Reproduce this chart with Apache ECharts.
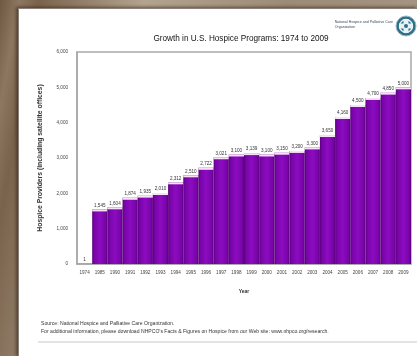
<!DOCTYPE html>
<html>
<head>
<meta charset="utf-8">
<script src="https://cdn.jsdelivr.net/npm/echarts@6/dist/echarts.min.js"></script>
<style>
  html, body { margin: 0; padding: 0; }
  body {
    width: 417px; height: 356px; overflow: hidden; position: relative;
    background: linear-gradient(100deg, #6e5843 0%, #8d7760 4%, #7a634d 8%, #b3a48f 30%, #9c8b76 60%, #a89885 100%);
  }
  #panel {
    position: absolute; left: 18px; top: 8px; width: 399px; height: 348px;
    background: #ffffff;
    box-shadow: -2px -1px 3px rgba(40, 30, 20, 0.6);
    border-left: 1px solid #8a8078; border-top: 1px solid #8a8078;
  }
  #chart { position: absolute; left: 0; top: 0; width: 417px; height: 356px; }
</style>
</head>
<body>
<div id="panel"></div>
<div id="chart"></div>
<script>
// Hospice providers in the U.S., by year
const years = ['1974', '1985', '1990', '1991', '1992', '1993', '1994', '1995', '1996', '1997', '1998',
               '1999', '2000', '2001', '2002', '2003', '2004', '2005', '2006', '2007', '2008', '2009'];
const providers = [1, 1545, 1604, 1874, 1935, 2010, 2312, 2510, 2722, 3021, 3100,
                   3139, 3100, 3150, 3200, 3300, 3650, 4160, 4500, 4700, 4850, 5000];
const yTicks = { min: 0, max: 6000, interval: 1000 };

const fmt = v => v.toLocaleString('en-US');
const FONT = '"Liberation Sans", Arial, sans-serif';

const chart = echarts.init(document.getElementById('chart'), null, { renderer: 'canvas' });

// Each bar is a shaded column with a light bevel along its top edge
function renderBar(params, api) {
  const idx = api.value(0);
  const val = api.value(1);
  const top = api.coord([idx, val]);
  const base = api.coord([idx, 0]);
  const w = api.size([1, 0])[0];
  const x = top[0] - w / 2;
  const h = base[1] - top[1];
  const children = [{
    type: 'rect',
    shape: { x: x, y: top[1], width: w, height: h },
    style: {
      fill: new echarts.graphic.LinearGradient(0, 0, 1, 0, [
        { offset: 0, color: '#560078' },
        { offset: 0.12, color: '#7804a8' },
        { offset: 0.5, color: '#8c0cc0' },
        { offset: 0.88, color: '#7804a8' },
        { offset: 1, color: '#560078' }
      ])
    }
  }];
  if (h > 3) {
    children.push({
      type: 'rect',
      shape: { x: x, y: top[1], width: w, height: 2 },
      style: { fill: '#f6e2f4' }
    });
  }
  children.push({
    type: 'text',
    style: {
      text: fmt(val), x: top[0], y: top[1] - 1.5,
      align: 'center', verticalAlign: 'bottom',
      font: '4.6px ' + FONT, fill: '#333333'
    }
  });
  return { type: 'group', children: children };
}

chart.setOption({
  animation: false,
  title: {
    text: 'Growth in U.S. Hospice Programs: 1974 to 2009',
    left: 236, top: 30, textAlign: 'center',
    textStyle: { fontFamily: FONT, fontSize: 8.2, fontWeight: 'normal', color: '#151515' }
  },
  grid: {
    left: 77, right: 6, top: 52, bottom: 92,
    show: true, borderColor: '#a8a8a8', borderWidth: 1.5, backgroundColor: 'transparent'
  },
  xAxis: {
    type: 'category',
    data: years,
    name: 'Year', nameLocation: 'middle', nameGap: 25,
    nameTextStyle: { fontFamily: FONT, fontSize: 5, fontWeight: 'bold', color: '#333' },
    axisLine: { lineStyle: { color: '#a8a8a8', width: 1.5 } },
    axisTick: { show: false },
    axisLabel: { interval: 0, margin: 6, fontFamily: FONT, fontSize: 4.6, color: '#444' }
  },
  yAxis: {
    type: 'value',
    min: yTicks.min, max: yTicks.max, interval: yTicks.interval,
    name: 'Hospice Providers (including satellite offices)',
    nameLocation: 'middle', nameGap: 33, nameRotate: 90,
    nameTextStyle: { fontFamily: FONT, fontSize: 6.8, fontWeight: 'bold', color: '#333' },
    axisLine: { show: true, lineStyle: { color: '#a8a8a8', width: 1.5 } },
    axisTick: { show: false },
    splitLine: { show: false },
    axisLabel: { margin: 9, formatter: fmt, fontFamily: FONT, fontSize: 4.6, color: '#444' }
  },
  series: [{
    type: 'custom',
    renderItem: renderBar,
    encode: { x: 0, y: 1 },
    data: years.map((y, i) => [i, providers[i]])
  }],
  graphic: [
    // organisation mark in the top right corner
    {
      type: 'text', right: 24, top: 19,
      style: {
        text: 'National Hospice and Palliative Care\nOrganization', align: 'right',
        font: '3.6px ' + FONT, fill: '#3a4a5a', lineHeight: 5
      }
    },
    { type: 'circle', shape: { cx: 406, cy: 26, r: 10 }, style: { fill: '#2c6f86', stroke: '#9fb7c2', lineWidth: 1 } },
    { type: 'circle', shape: { cx: 406, cy: 26, r: 6.5 }, style: { fill: 'none', stroke: '#e8f2f4', lineWidth: 1.4 } },
    { type: 'rect', shape: { x: 403.5, y: 19, width: 5, height: 14 }, style: { fill: '#e8f2f4' } },
    { type: 'rect', shape: { x: 399, y: 23.5, width: 14, height: 5 }, style: { fill: '#e8f2f4' } },
    { type: 'circle', shape: { cx: 406, cy: 26, r: 2 }, style: { fill: '#2c6f86' } },
    // source notes under the chart
    {
      type: 'text', left: 41, top: 320,
      style: {
        text: 'Source: National Hospice and Palliative Care Organization.\nFor additional information, please download NHPCO\u2019s Facts & Figures on Hospice from our Web site: www.nhpco.org/research.',
        font: '5.1px ' + FONT, fill: '#333', lineHeight: 8
      }
    },
    { type: 'line', shape: { x1: 38, y1: 342, x2: 417, y2: 342 }, style: { stroke: '#c8c8c8', lineWidth: 1 } }
  ]
});
</script>
</body>
</html>
